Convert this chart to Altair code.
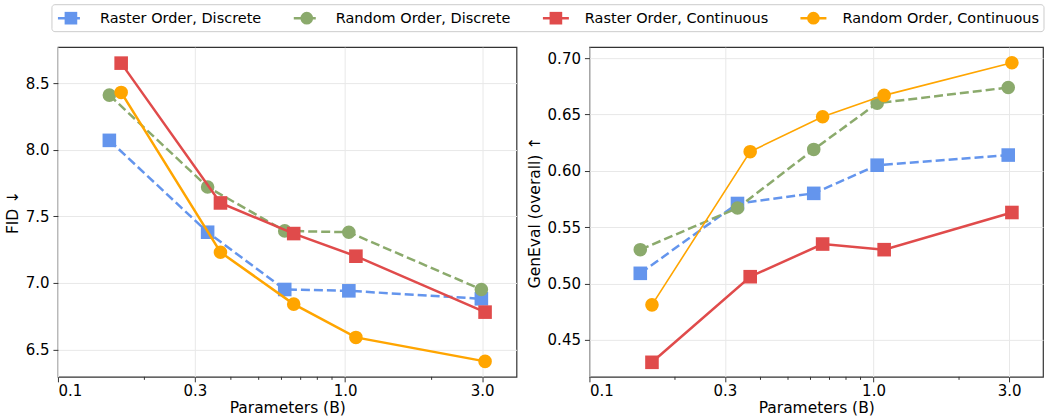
import altair as alt
import pandas as pd

# ---------------- data ----------------
series = ["Raster Order, Discrete", "Random Order, Discrete",
          "Raster Order, Continuous", "Random Order, Continuous"]
colors = ["#6495ED", "#8BAA6C", "#E04B4B", "#FFA500"]
shapes = ["square", "circle", "square", "circle"]
dashed = [True, True, False, False]

x_discrete = [0.151, 0.332, 0.616, 1.03, 2.98]
x_continuous = [0.166, 0.368, 0.662, 1.09, 3.07]

fid_raster_discrete = [8.07, 7.38, 6.95, 6.94, 6.88]
fid_random_discrete = [8.41, 7.72, 7.39, 7.38, 6.95]
fid_raster_continuous = [8.65, 7.60, 7.37, 7.20, 6.78]
fid_random_continuous = [8.43, 7.23, 6.84, 6.59, 6.41]

geneval_raster_discrete = [0.509, 0.571, 0.580, 0.605, 0.614]
geneval_random_discrete = [0.530, 0.567, 0.619, 0.660, 0.674]
geneval_raster_continuous = [0.430, 0.506, 0.535, 0.530, 0.563]
geneval_random_continuous = [0.481, 0.617, 0.648, 0.667, 0.696]

x_ticks = [0.1, 0.3, 1.0, 3.0]
x_minor = [0.2, 0.4, 0.5, 0.6, 0.7, 0.8, 0.9, 2.0]
fid_ticks = [6.5, 7.0, 7.5, 8.0, 8.5]
geneval_ticks = [0.45, 0.50, 0.55, 0.60, 0.65, 0.70]

FONT = "DejaVu Sans"
PLOT_H = 330


def panel(ys, ytitle, ydomain, yticks, yfmt, width, line_widths):
    xs = [x_discrete, x_discrete, x_continuous, x_continuous]
    rows = []
    for s, xv, yv in zip(series, xs, ys):
        for a, b in zip(xv, yv):
            rows.append({"series": s, "x": a, "y": b})
    df = pd.DataFrame(rows)

    xscale = alt.Scale(type="log", domain=[0.1, 3.95], nice=False)
    yscale = alt.Scale(domain=ydomain, nice=False, zero=False)
    common = dict(grid=True, gridColor="#e8e8e8", gridWidth=1, domain=False,
                  tickColor="#333333", tickSize=5, tickWidth=1,
                  labelFont=FONT, titleFont=FONT, labelFontSize=15,
                  titleFontSize=15.5, titleFontWeight="normal",
                  labelColor="black", titleColor="black")
    xaxis = alt.Axis(values=x_ticks, format=".1f", title="Parameters (B)",
                     labelPadding=2, titlePadding=2, **common)
    yaxis = alt.Axis(values=yticks, format=yfmt, title=ytitle,
                     labelPadding=4, titlePadding=5, **common)
    X = alt.X("x:Q", scale=xscale, axis=xaxis)
    Y = alt.Y("y:Q", scale=yscale, axis=yaxis)

    layers = []
    minor = alt.Chart(pd.DataFrame({"x": x_minor})).mark_rule(
        color="#333333", strokeWidth=1).encode(
        x=X, y=alt.value(PLOT_H), y2=alt.value(PLOT_H + 3))
    layers.append(minor)
    for s, c, sh, d, lw in zip(series, colors, shapes, dashed, line_widths):
        base = alt.Chart(df).transform_filter(alt.datum.series == s)
        lkw = dict(color=c, strokeWidth=lw)
        if d:
            lkw["strokeDash"] = [9, 4]
        line = base.mark_line(**lkw).encode(x=X, y=Y)
        pts = base.mark_point(filled=True, opacity=1, size=185, shape=sh,
                              color=c).encode(x=X, y=Y)
        layers += [line, pts]
    return alt.layer(*layers, view=alt.ViewBackground(
        stroke="#333333", strokeWidth=1.2)).properties(width=width, height=PLOT_H)


left = panel([fid_raster_discrete, fid_random_discrete,
              fid_raster_continuous, fid_random_continuous],
             "FID ↓", [6.294, 8.77], fid_ticks, ".1f", 459,
             [2.5, 2.5, 2.5, 2.5])
right = panel([geneval_raster_discrete, geneval_random_discrete,
               geneval_raster_continuous, geneval_random_continuous],
              "GenEval (overall) ↑", [0.4171, 0.7098], geneval_ticks, ".2f",
              454, [2.5, 2.5, 2.5, 1.6])

# ---------------- legend (drawn manually) ----------------
# legend group origin coincides with the left plot's left edge
CW = {"R": .695, "a": .613, "s": .521, "t": .392, "e": .615, "r": .411,
      " ": .318, "O": .787, "d": .635, ",": .318, "D": .770, "i": .278,
      "c": .550, "n": .634, "o": .612, "m": .974, "C": .698, "u": .634}
LEG_FS = 14.5
LW, LH = 980, 28
box_left, box_right = -6, 987
cx, tx = [], []
cur = box_left + 19
for s in series:
    cx.append(cur)
    tx.append(cur + 29)
    cur = cur + 29 + sum(CW.get(ch, 0.6) for ch in s) * LEG_FS + 44.5

leg_df = pd.DataFrame({"series": series, "cx": cx, "tx": tx})
LX = alt.Scale(domain=[0, LW], nice=False, zero=False)
col = alt.Color("series:N", scale=alt.Scale(domain=series, range=colors), legend=None)
box = alt.Chart(pd.DataFrame({"a": [0]})).mark_rect(
    fill="white", stroke="#cccccc", strokeWidth=1, cornerRadius=3).encode(
    x=alt.value(box_left), x2=alt.value(box_right),
    y=alt.value(0.5), y2=alt.value(LH - 0.5))
lb = alt.Chart(leg_df)
seg = lb.mark_rule(xOffset=-13, x2Offset=13, strokeWidth=2.5).encode(
    x=alt.X("cx:Q", scale=LX, axis=None), x2="cx:Q", y=alt.value(LH / 2),
    color=col,
    strokeDash=alt.StrokeDash("series:N", scale=alt.Scale(
        domain=series, range=[[9, 4], [9, 4], [1, 0], [1, 0]]), legend=None))
mk = lb.mark_point(filled=True, opacity=1, size=160).encode(
    x=alt.X("cx:Q", scale=LX, axis=None), y=alt.value(LH / 2), color=col,
    shape=alt.Shape("series:N", scale=alt.Scale(domain=series, range=shapes),
                    legend=None))
txt = lb.mark_text(align="left", baseline="middle", fontSize=LEG_FS,
                   font=FONT, color="black").encode(
    x=alt.X("tx:Q", scale=LX, axis=None), y=alt.value(LH / 2 + 0.5),
    text="series:N")
legend = alt.layer(box, seg, mk, txt, view=alt.ViewBackground(
    stroke="transparent")).properties(width=LW, height=LH)

chart = alt.vconcat(
    legend,
    alt.hconcat(left, right, spacing=9),
    spacing=13,
).properties(
    padding={"left": 4, "top": 3, "right": 0, "bottom": 0},
    background="white",
).configure(font=FONT)

chart.save("out.html", embed_options={"renderer": "svg", "actions": False})
